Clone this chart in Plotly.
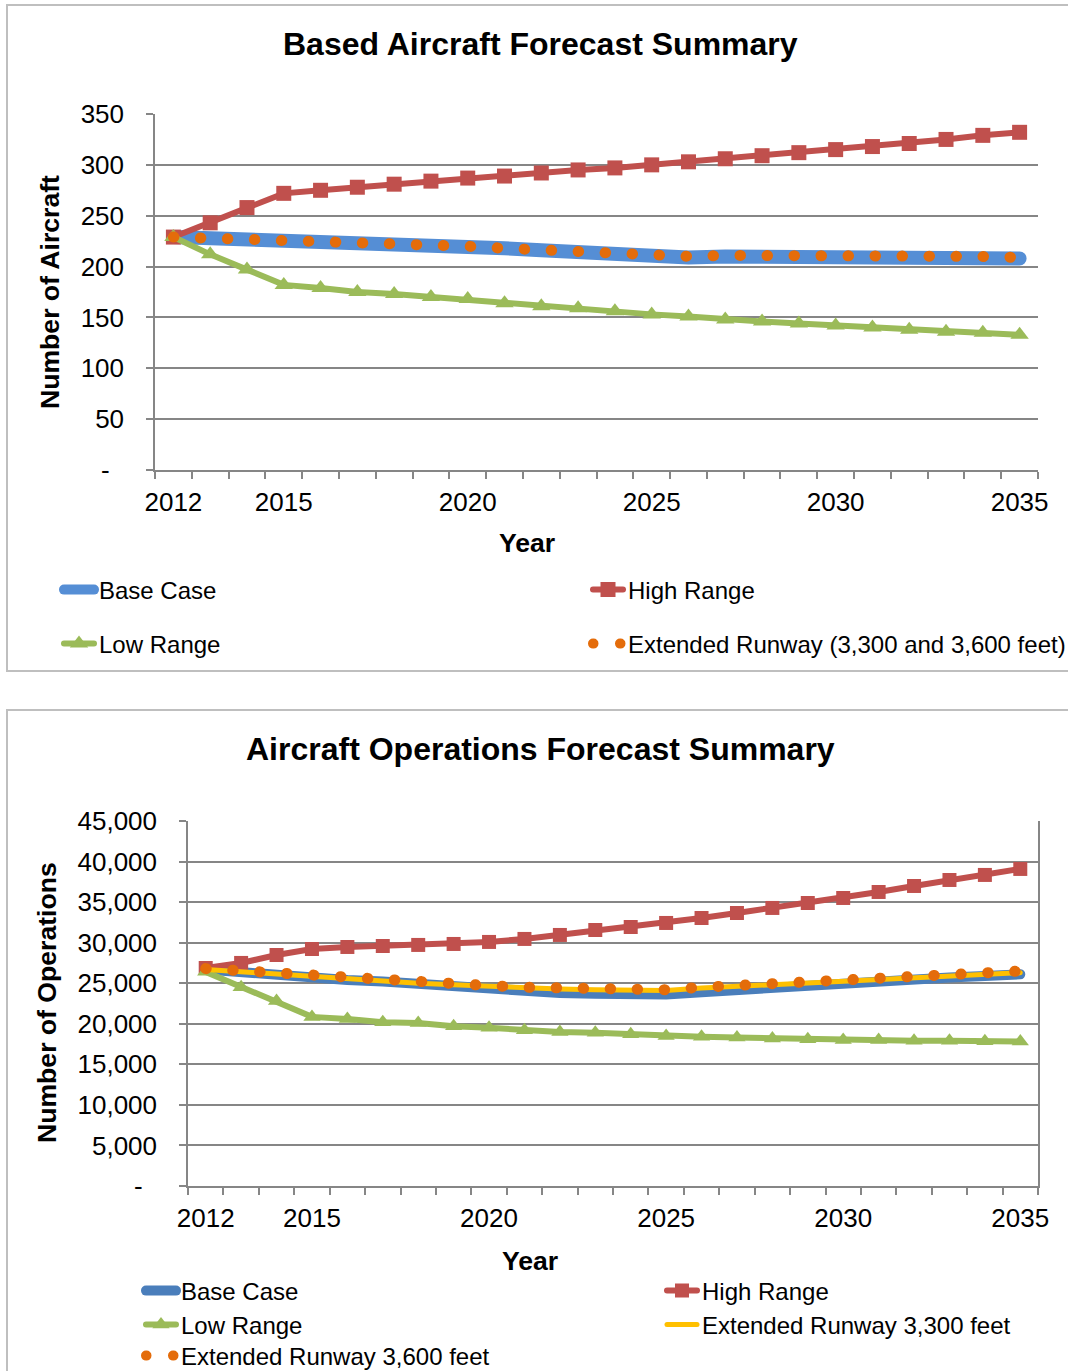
import plotly.graph_objects as go

W, H = 1068, 1371
MB = 60  # bottom margin (legends live partly there)
HP = H - MB

# ---------------- data ----------------
years = list(range(2012, 2036))
x_ticks = [2012, 2015, 2020, 2025, 2030, 2035]

# Based aircraft
ac_base = [229, 228, 228, 227, 226, 225, 223, 222, 220, 218, 216, 214, 212, 210, 209, 210, 210, 211, 211, 210, 210, 209, 209, 208]
ac_high = [229, 243, 258, 272, 275, 278, 281, 284, 287, 289, 292, 295, 297, 300, 303, 306, 309, 312, 315, 318, 321, 325, 329, 332]
ac_low = [229, 212, 197, 182, 179, 175, 173, 170, 168, 164, 161, 159, 156, 153, 151, 148, 146, 144, 142, 140, 138, 136, 135, 133]
ac_ext = [229, 228, 228, 227, 226, 225, 223, 222, 220, 218, 216, 214, 212, 210, 210, 211, 211, 212, 212, 212, 211, 211, 210, 209]
ac_yticks = [0, 50, 100, 150, 200, 250, 300, 350]
ac_yticktext = ["-\u00a0\u00a0", "50", "100", "150", "200", "250", "300", "350"]

# Aircraft operations
op_base = [26700, 26300, 26000, 25700, 25400, 25200, 24900, 24600, 24200, 23900, 23800, 23700, 23650, 23600, 23900, 24200, 24500, 24800, 25000, 25300, 25500, 25700, 25900, 26100]
op_high = [26880, 27500, 28480, 29220, 29470, 29590, 29720, 29840, 30090, 30460, 30950, 31560, 31930, 32430, 33040, 33660, 34280, 34890, 35510, 36250, 36990, 37730, 38350, 39090]
op_low = [26400, 24500, 22800, 20850, 20600, 20200, 20100, 19700, 19500, 19200, 19000, 18900, 18700, 18500, 18400, 18300, 18200, 18100, 18000, 18000, 17900, 17900, 17850, 17800]
op_ext3300 = [26700, 26400, 26100, 25800, 25500, 25300, 25000, 24800, 24600, 24400, 24300, 24200, 24200, 24100, 24400, 24600, 24900, 25100, 25300, 25500, 25700, 25900, 26100, 26300]
op_ext3600 = [26800, 26500, 26200, 25900, 25600, 25400, 25100, 24900, 24700, 24500, 24400, 24300, 24300, 24200, 24500, 24700, 25000, 25200, 25400, 25600, 25800, 26000, 26200, 26500]
op_yticks = [0, 5000, 10000, 15000, 20000, 25000, 30000, 35000, 40000, 45000]
op_yticktext = ["-\u00a0\u00a0", "5,000", "10,000", "15,000", "20,000", "25,000", "30,000", "35,000", "40,000", "45,000"]

# ---------------- helpers ----------------
def fx(px):
    return px / W

def fy(py):
    return 1 - py / HP

FONT = "Liberation Sans, Arial, sans-serif"
GRID = "#868686"
BLUE1 = "#558ED5"
BLUE2 = "#4A7EBB"
RED = "#C0504D"
GREEN = "#9BBB59"
ORANGE = "#E46C0A"
YELLOW = "#FFC000"
DOTS = "0.5px,26.5px"

fig = go.Figure()

# ---- chart 1 ----
fig.add_trace(go.Scatter(x=years, y=ac_base, name="Base Case", mode="lines",
                         line=dict(color=BLUE1, width=14), xaxis="x", yaxis="y", legend="legend"))
fig.add_trace(go.Scatter(x=years, y=ac_high, name="High Range", mode="lines+markers",
                         line=dict(color=RED, width=6), marker=dict(symbol="square", size=15, color=RED),
                         xaxis="x", yaxis="y", legend="legend2"))
fig.add_trace(go.Scatter(x=years, y=ac_low, name="Low Range", mode="lines+markers",
                         line=dict(color=GREEN, width=6), marker=dict(symbol="triangle-up", size=16, color=GREEN),
                         xaxis="x", yaxis="y", legend="legend3"))
fig.add_trace(go.Scatter(x=years, y=ac_ext, name="Extended Runway (3,300 and 3,600 feet)", mode="lines",
                         line=dict(color=ORANGE, width=11, dash=DOTS), xaxis="x", yaxis="y", legend="legend4"))

# ---- chart 2 ----
fig.add_trace(go.Scatter(x=years, y=op_base, name="Base Case", mode="lines",
                         line=dict(color=BLUE2, width=10), xaxis="x2", yaxis="y2", legend="legend5"))
fig.add_trace(go.Scatter(x=years, y=op_high, name="High Range", mode="lines+markers",
                         line=dict(color=RED, width=6), marker=dict(symbol="square", size=14, color=RED),
                         xaxis="x2", yaxis="y2", legend="legend6"))
fig.add_trace(go.Scatter(x=years, y=op_low, name="Low Range", mode="lines+markers",
                         line=dict(color=GREEN, width=6), marker=dict(symbol="triangle-up", size=15, color=GREEN),
                         xaxis="x2", yaxis="y2", legend="legend7"))
fig.add_trace(go.Scatter(x=years, y=op_ext3300, name="Extended Runway 3,300 feet", mode="lines",
                         line=dict(color=YELLOW, width=5), xaxis="x2", yaxis="y2", legend="legend8"))
fig.add_trace(go.Scatter(x=years, y=op_ext3600, name="Extended Runway 3,600 feet", mode="lines",
                         line=dict(color=ORANGE, width=11, dash=DOTS), xaxis="x2", yaxis="y2", legend="legend9"))

tickfont = dict(family=FONT, size=26, color="black")

def xaxis_cfg(dom, anchor):
    return dict(domain=dom, anchor=anchor, range=[2011.5, 2035.5], tickvals=x_ticks,
                ticks="", showgrid=False, zeroline=False, showline=True, linecolor=GRID, linewidth=1.5,
                tickfont=tickfont, ticklabelstandoff=8, automargin=False,
                minor=dict(tick0=2011.5, dtick=1, ticks="outside", ticklen=7, tickcolor=GRID, tickwidth=1.5, showgrid=False),
                fixedrange=True)

def yaxis_cfg(dom, anchor, rng, tv, tt, mirror=False):
    return dict(domain=dom, anchor=anchor, range=rng, tickvals=tv, ticktext=tt,
                ticks="outside", ticklen=7, tickcolor=GRID, tickwidth=1.5,
                showgrid=True, gridcolor=GRID, gridwidth=1.5, zeroline=False,
                showline=True, linecolor=GRID, linewidth=1.5, mirror=mirror,
                tickfont=tickfont, ticklabelstandoff=17, automargin=False, fixedrange=True)

legfont = dict(family=FONT, size=24, color="black")

def leg(text_x, ypx):
    return dict(orientation="h", x=fx(text_x - 40), y=fy(ypx), xanchor="left", yanchor="middle",
                font=legfont, bgcolor="rgba(0,0,0,0)", itemwidth=30)

fig.update_layout(
    width=W, height=H, margin=dict(l=0, r=0, t=0, b=MB, autoexpand=False),
    paper_bgcolor="white", plot_bgcolor="white",
    xaxis=xaxis_cfg([fx(155), fx(1038)], "y"),
    yaxis=yaxis_cfg([fy(470), fy(114)], "x", [0, 350], ac_yticks, ac_yticktext),
    xaxis2=xaxis_cfg([fx(188), fx(1038)], "y2"),
    yaxis2=yaxis_cfg([fy(1186), fy(821)], "x2", [0, 45000], op_yticks, op_yticktext, mirror=True),
    legend=leg(99, 590),
    legend2=leg(628, 590),
    legend3=leg(99, 644),
    legend4=leg(628, 644),
    legend5=leg(181, 1291),
    legend6=leg(702, 1291),
    legend7=leg(181, 1325),
    legend8=leg(702, 1325),
    legend9=leg(181, 1356),
    showlegend=True,
)

# chart frames
fig.add_shape(type="rect", xref="paper", yref="paper", x0=fx(7), x1=fx(1080), y0=fy(1390), y1=fy(710),
              line=dict(color="#BFBFBF", width=2), layer="below")
fig.add_shape(type="rect", xref="paper", yref="paper", x0=fx(7), x1=fx(1080), y0=fy(671), y1=fy(5),
              line=dict(color="#BFBFBF", width=2), layer="below")

def ann(text, xpx, ypx, size, angle=0):
    fig.add_annotation(text=text, xref="paper", yref="paper", x=fx(xpx), y=fy(ypx),
                       xanchor="center", yanchor="middle", showarrow=False, textangle=angle,
                       font=dict(family=FONT, size=size, color="black"))

ann("<b>Based Aircraft Forecast Summary</b>", 540, 44, 32)
ann("<b>Aircraft Operations Forecast Summary</b>", 540, 749, 32)
ann("<b>Number of Aircraft</b>", 50, 292, 26.6, -90)
ann("<b>Number of Operations</b>", 47, 1003, 26.6, -90)
ann("<b>Year</b>", 527, 543, 26.6)
ann("<b>Year</b>", 530, 1261, 26.6)

post = """
document.documentElement.style.margin='0';
document.documentElement.style.overflow='hidden';
document.body.style.margin='0';
document.body.style.padding='0';
document.body.style.overflow='hidden';
document.querySelectorAll('path.js-line').forEach(function(p){ p.style.strokeLinecap='round'; });
"""

fig.write_html("out.html", post_script=post, config={"displayModeBar": False})
